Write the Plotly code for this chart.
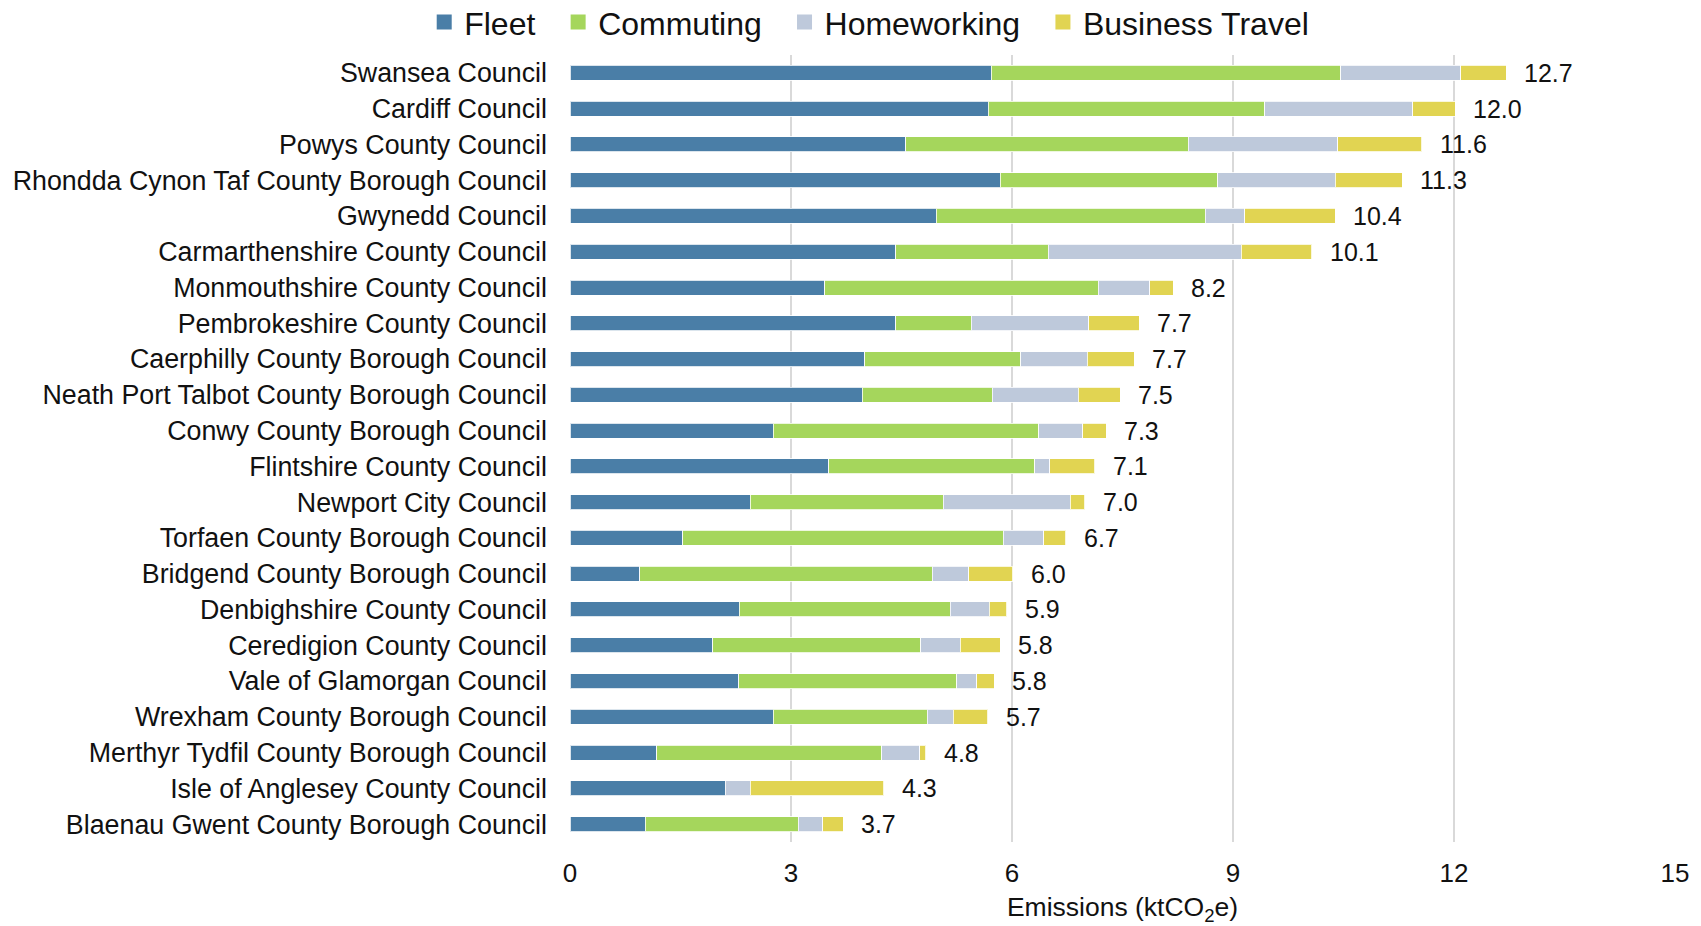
import plotly.graph_objects as go

councils = [
    "Swansea Council", "Cardiff Council", "Powys County Council",
    "Rhondda Cynon Taf County Borough Council", "Gwynedd Council",
    "Carmarthenshire County Council", "Monmouthshire County Council",
    "Pembrokeshire County Council", "Caerphilly County Borough Council",
    "Neath Port Talbot County Borough Council", "Conwy County Borough Council",
    "Flintshire County Council", "Newport City Council",
    "Torfaen County Borough Council", "Bridgend County Borough Council",
    "Denbighshire County Council", "Ceredigion County Council",
    "Vale of Glamorgan Council", "Wrexham County Borough Council",
    "Merthyr Tydfil County Borough Council", "Isle of Anglesey County Council",
    "Blaenau Gwent County Borough Council",
]
fleet = [5.72, 5.68, 4.56, 5.84, 4.97, 4.42, 3.46, 4.42, 4.00, 3.97, 2.76,
         3.51, 2.45, 1.53, 0.95, 2.30, 1.94, 2.29, 2.76, 1.18, 2.11, 1.02]
commuting = [4.74, 3.75, 3.83, 2.95, 3.65, 2.07, 3.71, 1.03, 2.12, 1.76, 3.60,
             2.80, 2.62, 4.35, 3.97, 2.86, 2.82, 2.96, 2.09, 3.05, 0.00, 2.08]
homeworking = [1.63, 2.01, 2.03, 1.60, 0.54, 2.62, 0.70, 1.59, 0.90, 1.17, 0.60,
               0.20, 1.72, 0.55, 0.49, 0.53, 0.54, 0.27, 0.35, 0.52, 0.34, 0.33]
business_travel = [0.62, 0.58, 1.14, 0.91, 1.23, 0.96, 0.32, 0.69, 0.64, 0.57, 0.32,
                   0.61, 0.20, 0.30, 0.60, 0.24, 0.54, 0.24, 0.47, 0.08, 1.81, 0.28]
total_labels = ["12.7", "12.0", "11.6", "11.3", "10.4", "10.1", "8.2", "7.7", "7.7",
                "7.5", "7.3", "7.1", "7.0", "6.7", "6.0", "5.9", "5.8", "5.8", "5.7",
                "4.8", "4.3", "3.7"]
x_ticks = [0, 3, 6, 9, 12, 15]

series = [
    ("Fleet", fleet, "rgb(74,126,167)"),
    ("Commuting", commuting, "rgb(165,214,92)"),
    ("Homeworking", homeworking, "rgb(190,201,219)"),
    ("Business Travel", business_travel, "rgb(225,212,82)"),
]

FONT = "Liberation Sans, Arial, sans-serif"
PAD = "\u00a0\u00a0"
fig = go.Figure()
for i, (name, vals, col) in enumerate(series):
    fig.add_trace(go.Bar(
        y=councils, x=vals, name=name, orientation="h", showlegend=False,
        legendgroup=name,
        marker=dict(color=col, line=dict(color="rgba(255,255,255,0.8)", width=1)),
        width=0.42, hovertemplate=name + ": %{x}<extra></extra>",
    ))
# legend entries (square swatches)
for i, (name, vals, col) in enumerate(series):
    fig.add_trace(go.Scatter(
        x=[None], y=[None], mode="markers", legendgroup=name,
        name=name + (PAD if i < len(series) - 1 else ""),
        marker=dict(symbol="square", size=15, color=col, line=dict(width=0)),
        showlegend=True, hoverinfo="skip",
    ))

totals = [f + c + h + b for f, c, h, b in zip(fleet, commuting, homeworking, business_travel)]
for cat, tot, lab in zip(councils, totals, total_labels):
    fig.add_annotation(x=tot, y=cat, text=lab, showarrow=False, xanchor="left",
                       yanchor="middle", xshift=16,
                       font=dict(family=FONT, size=25, color="#111111"))

fig.update_layout(
    barmode="stack",
    width=1701, height=926,
    margin=dict(l=570, r=26, t=55, b=84, autoexpand=False),
    paper_bgcolor="white", plot_bgcolor="white",
    font=dict(family=FONT, size=25, color="#111111"),
    legend=dict(orientation="h", xref="container", yref="container",
                x=0.511, xanchor="center", y=0.976, yanchor="middle",
                font=dict(family=FONT, size=32, color="#111111"),
                itemwidth=30, traceorder="normal", bgcolor="rgba(0,0,0,0)"),
    showlegend=True,
)
fig.update_xaxes(
    range=[0, 15], tickvals=x_ticks, ticktext=[str(t) for t in x_ticks],
    showgrid=True, gridcolor="#d9d9d9", gridwidth=1.5, zeroline=False,
    showline=False, ticks="", ticklabelstandoff=13,
    tickfont=dict(family=FONT, size=26, color="#111111"),
    title=dict(text="Emissions (ktCO<sub>2</sub>e)", standoff=18,
               font=dict(family=FONT, size=26.5, color="#111111")),
)
fig.update_yaxes(
    categoryorder="array", categoryarray=councils, autorange="reversed",
    range=[21.5, -0.5], showgrid=False, zeroline=False, showline=False,
    ticks="", ticklabelstandoff=22,
    tickfont=dict(family=FONT, size=26.8, color="#111111"),
)
fig.write_html(
    "out.html",
    config={"displayModeBar": False},
    post_script="document.body.style.margin='0';document.body.style.overflow='hidden';",
)
